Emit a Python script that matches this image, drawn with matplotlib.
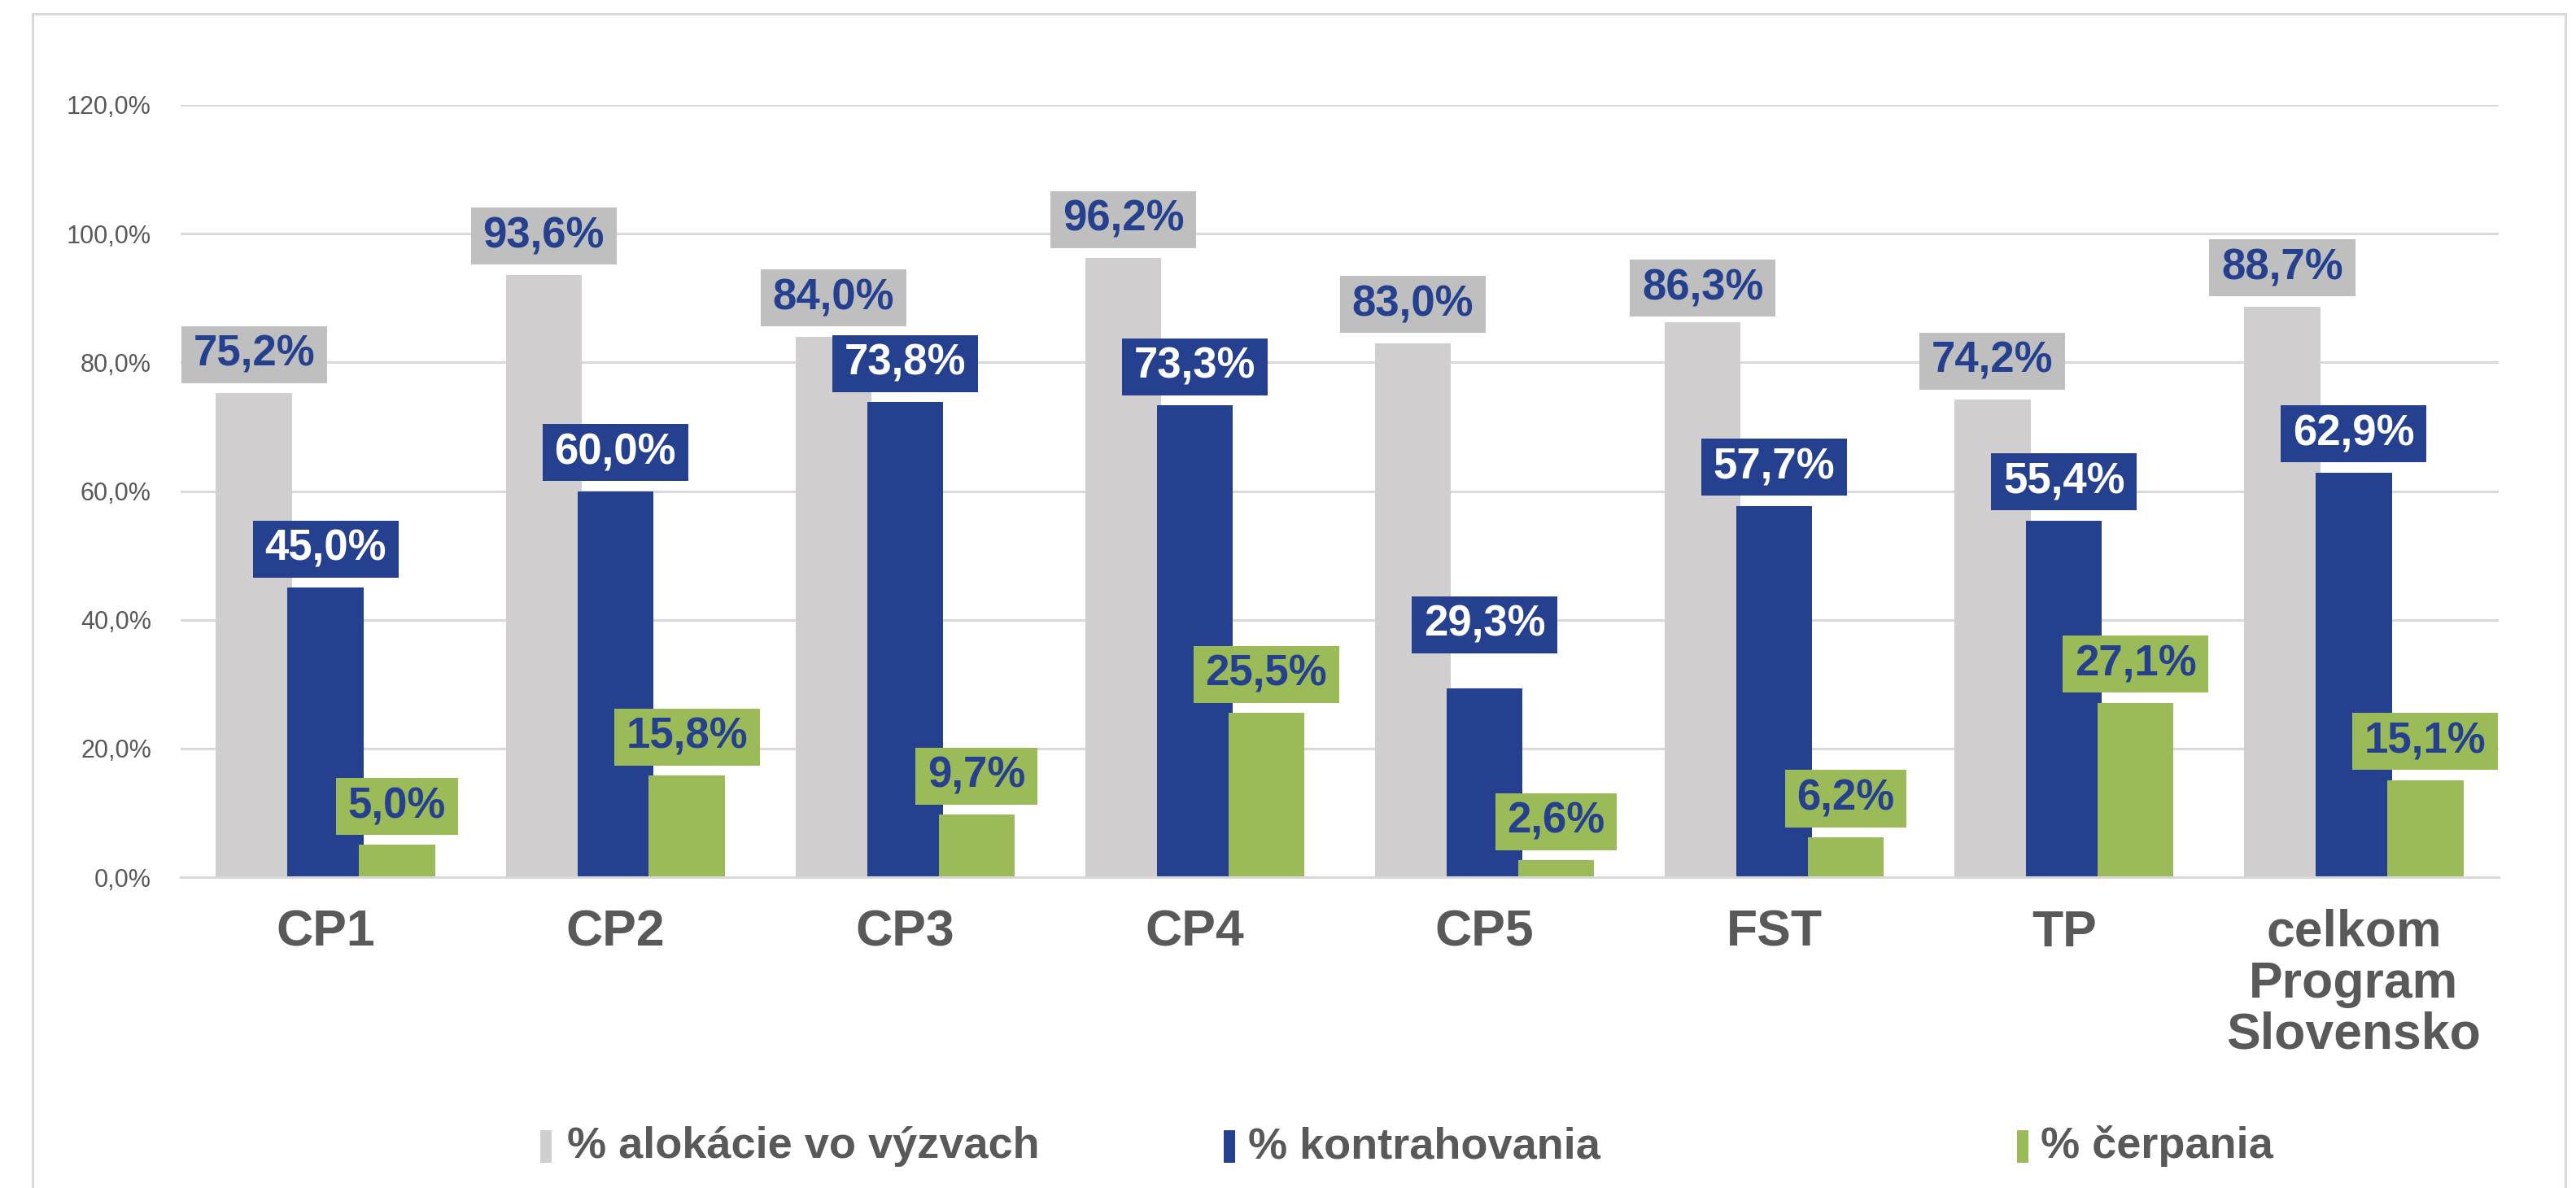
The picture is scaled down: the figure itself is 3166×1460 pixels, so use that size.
import matplotlib
matplotlib.use('Agg')
import matplotlib.pyplot as plt
from matplotlib.patches import Rectangle
from matplotlib.lines import Line2D
from matplotlib.path import Path
import numpy as np

categories = ['CP1', 'CP2', 'CP3', 'CP4', 'CP5', 'FST', 'TP', 'celkom\nProgram\nSlovensko']
alokacia = [75.2, 93.6, 84.0, 96.2, 83.0, 86.3, 74.2, 88.7]
kontrahovanie = [45.0, 60.0, 73.8, 73.3, 29.3, 57.7, 55.4, 62.9]
cerpanie = [5.0, 15.8, 9.7, 25.5, 2.6, 6.2, 27.1, 15.1]
series_names = ['% alokácie vo výzvach', '% kontrahovania', '% čerpania']
yticks = [0, 20, 40, 60, 80, 100, 120]

# label placement tweaks (series index, category index) -> extra y offset in % points
label_nudge = {(1, 4): 3.9, (0, 5): -0.8}

FONT = 'Liberation Sans'
GRAY_BAR = '#D0CECE'
GRAY_BOX = '#BFBFBF'
BLUE = '#25408F'
GREEN = '#9BBB59'
TXT = '#595959'
GRID = '#D9D9D9'


def label_box(padx, pady):
    def style(x0, y0, width, height, mutation_size):
        px, py = padx * mutation_size, pady * mutation_size
        xa, ya = x0 - px, y0 - py
        xb, yb = x0 + width + px, y0 + height + py
        return Path([(xa, ya), (xb, ya), (xb, yb), (xa, yb), (xa, ya)], closed=True)
    return style


W, H = 3166, 1460
fig = plt.figure(figsize=(W / 100, H / 100), dpi=100)
fig.patch.set_facecolor('white')
ax = fig.add_axes([222 / W, 1 - 1078 / H, (3071 - 222) / W, (1078 - 129) / H])

x = np.arange(len(categories))
bw = 0.262
offs = [-0.247, 0.0, 0.247]
series = [alokacia, kontrahovanie, cerpanie]
bar_colors = [GRAY_BAR, BLUE, GREEN]
box_colors = [GRAY_BOX, BLUE, GREEN]
text_colors = [BLUE, 'white', BLUE]

for k, (vals, off) in enumerate(zip(series, offs)):
    ax.bar(x + off, vals, width=bw, color=bar_colors[k], zorder=2 + k)
    for i, (xi, v) in enumerate(zip(x, vals)):
        dy = 6.0 + label_nudge.get((k, i), 0.0)
        ax.text(xi + off, v + dy, f'{v:.1f}%'.replace('.', ','),
                ha='center', va='center', fontsize=38, fontweight='bold',
                family=FONT, color=text_colors[k], zorder=10,
                bbox=dict(boxstyle=label_box(0.28, 0.19), fc=box_colors[k], ec='none'))

ax.set_xlim(-0.5, len(categories) - 0.5)
ax.set_ylim(0, 120)
ax.set_yticks(yticks)
ax.set_yticklabels([f'{t:.1f}%'.replace('.', ',') for t in yticks],
                   fontsize=22, color=TXT, family=FONT)
ax.set_xticks(x)
ax.set_xticklabels(categories, fontsize=45, fontweight='bold', color=TXT,
                   family=FONT, linespacing=1.08)
ax.tick_params(axis='y', length=0, pad=26)
ax.tick_params(axis='x', length=0, pad=28)
ax.yaxis.grid(True, color=GRID, linewidth=2.2, zorder=0)
ax.set_axisbelow(True)
for s in ['top', 'right', 'left']:
    ax.spines[s].set_visible(False)
ax.spines['bottom'].set_color(GRID)
ax.spines['bottom'].set_linewidth(2.2)
ax.spines['bottom'].set_zorder(6)

# legend (manual)
leg_marker_x = [664, 1504, 2479]
leg_text_x = [697, 1534, 2508]
yc = 1409
for k, name in enumerate(series_names):
    fig.add_artist(Rectangle((leg_marker_x[k] / W, 1 - (yc + 20) / H), 14 / W, 40 / H,
                             transform=fig.transFigure, facecolor=bar_colors[k], edgecolor='none'))
    fig.text(leg_text_x[k] / W, 1 - yc / H, name, ha='left', va='center',
             fontsize=39, fontweight='bold', family=FONT, color=TXT)

# outer chart border
for xs, ys in [([40, 40], [H + 5, 17]), ([40, 3153], [17, 17]), ([3153, 3153], [17, H + 5])]:
    fig.add_artist(Line2D([v / W for v in xs], [1 - v / H for v in ys],
                          transform=fig.transFigure, color=GRID, linewidth=2.2))

fig.savefig('out.png', dpi=100, facecolor='white')
